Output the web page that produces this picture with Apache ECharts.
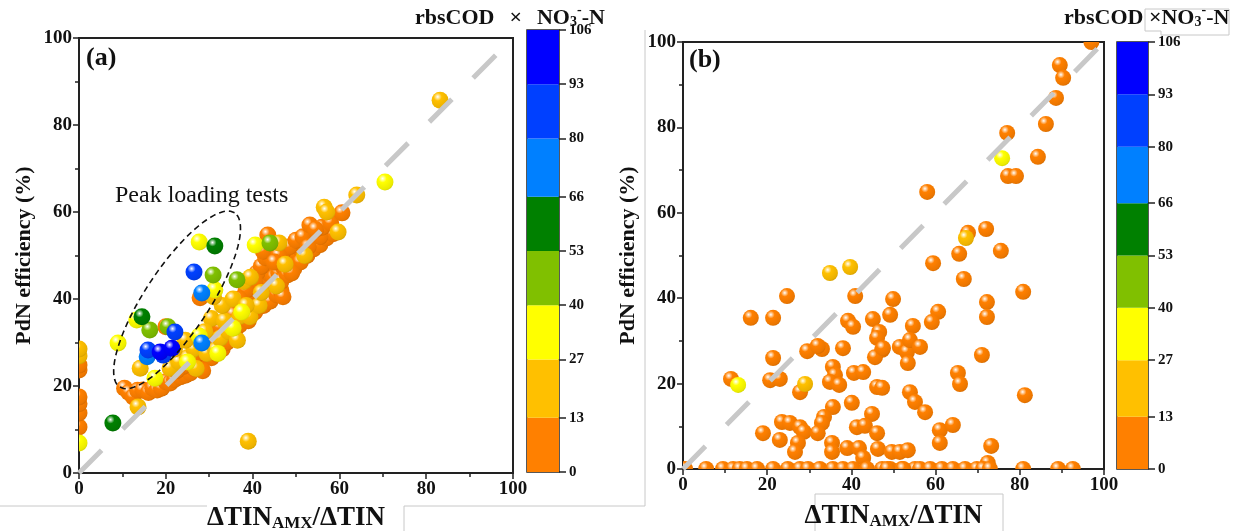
<!DOCTYPE html>
<html><head><meta charset="utf-8">
<script src="https://cdn.jsdelivr.net/npm/echarts@6/dist/echarts.min.js"></script>
<style>html,body{margin:0;padding:0;background:#fff}#c{width:1237px;height:531px}</style>
</head><body><div id="c"></div>
<script>
// ---------- data ----------
const colorEdges = [0, 13, 27, 40, 53, 66, 80, 93, 106];
const bandColors = ['#FF8000', '#FFC000', '#FFFF00', '#80C000', '#008000', '#0080FF', '#0040FF', '#0000FF'];

// panel (a) points by colour band  [ΔTIN_AMX/ΔTIN, PdN efficiency]
const aBand0 = [ // 0-13 orange
  [0,10.6],[0,13.8],[0,15.9],[0,17.5],[0,23.7],[0,24.8],
  [10.5,19.5],[11.5,18.5],[12.5,17.5],[13.5,19],[14.7,19.1],[16,18.5],[17,19.5],[18,19.1],[19,19.5],[20,21],[21,20.7],[22,21.5],[23.3,22.1],[24.5,22.5],[25.6,23],[26.5,24],[24,24.5],[22.5,23.5],
  [27,25],[28,26],[29,27],[30,28.5],[31,29],[32,30],[33,31],[34,32],[35,31.5],[35.5,31.7],[30.5,26.5],[29,29],[27.5,27.5],[31.5,27.5],[33,28.5],[26,25.5],[34,30],[36,33],[28.5,23.5],[27.9,40.3],[20,33.6],[35,34.5],[32.5,33.5],[30,31],
  [36,35],[37,34],[38,36.5],[39,38],[40,39],[41,40],[42,41],[43,42],[44,43],[45,44],[37.5,38.5],[36.5,37],[38.5,40.5],[40,41.5],[41.5,43],[42.5,44.5],[43.5,46],[44.5,47.5],[39.5,42.5],[41,46],[42,47.5],[43,49.5],[44,50.5],[40.5,44],[38.5,42],[37,40],[36,39],[35.5,36.5],[39,35],[40.5,37],[42.5,38.5],[44,39.5],[45.5,41],[46.5,42],[47,40.5],[45,45],[43.5,54.7],[44,49.4],[42.5,51],
  [46,46],[47,47.5],[48,48.5],[49,49.5],[50,50.5],[51,51.5],[52,52],[53,53],[54,54],[55,55],[46.5,44],[48,45.5],[49.5,47],[51,48.5],[52.5,50],[54,51.5],[55.5,52.5],[57,54],[58.5,55],[47,51],[48.5,52],[50,53.5],[51.6,54.3],[53.2,57],[55.5,54.3],[56,56.5],[58,57.5],[60.6,59.8],[46,50],[45,48.5],[52.8,52],[54.5,56],[49,46]
];
const aBand1 = [ // 13-27 amber
  [0,26.9],[0,28.5],[13.6,15.2],[14.1,24.1],[21,24.1],[23,25.5],[25,26.5],[26.5,28.5],[28,30],[29.5,27.5],[31.5,28.3],[32.5,31],[30.5,35.5],[33.5,35],[34.5,32.5],[37,36],[39.4,35.9],[41.5,38.5],[38,44],[39.5,45],[46.1,52.9],[56.5,61.1],[57.1,60],[59.7,55.4],[64,63.9],[83.2,85.7],[39,7.3],[24.5,30.5],[33,38.5],[35.5,40],[45.5,43],[31,40.5],[22,28.5],[47.5,48],[52,50],[29,32.5],[36.5,30.5],[27,24],[42,41.5],[38.5,38.5]
];
const aBand2 = [ // 27-40 yellow
  [0,6.9],[9,29.9],[13.3,35.2],[17.5,21.8],[27.7,31.5],[27.7,53.1],[31.3,42.1],[35.5,33.3],[40.6,52.4],[70.5,66.9],[32,27.5],[37.5,37],[25,25.5]
];
const aBand3 = [[16.3,32.9],[20.5,33.6],[30.9,45.5],[36.4,44.4],[44,52.9]]; // 40-53
const aBand4 = [[7.8,11.5],[14.5,35.9],[31.3,52.2]];                       // 53-66
const aBand5 = [[28.3,41.4],[28.3,29.9],[15.7,26.7]];                      // 66-80
const aBand6 = [[26.5,46.2],[22.1,32.4],[15.9,28.3],[19.4,27.1]];          // 80-93
const aBand7 = [[18.7,27.8],[21.4,28.7]];                                  // 93-106

// panel (b)
const bBand0 = [
  [24.7,40.5],[40.9,40.5],[49.9,39.8],[16.1,35.4],[21.4,35.4],[39.2,34.7],[40.4,33.3],[45.1,35.1],[49.2,36.1],[54.6,33.5],
  [46.6,32.1],[46.1,30.7],[47.3,27.9],[45.6,26.2],[29.5,27.6],[33,28.1],[32,28.8],[38,28.3],[21.4,26],[51.5,28.6],[53.2,27.4],[53.9,30.2],[53.4,24.8],
  [35.6,23.9],[36.1,22],[34.9,20.4],[37.1,19.7],[40.6,22.5],[42.8,22.7],[11.4,21.1],[20.7,20.8],[23,21.1],[27.8,18],[46.1,19.2],[53.9,18],[55.1,15.7],
  [40.1,15.5],[35.6,14.5],[33.5,12.2],[33,10.8],[23.5,11],[25.4,10.8],[27.8,9.8],[28.7,8.7],[19,8.4],[23,6.8],[32,8.4],[44.9,12.9],[41.3,9.8],[43.2,10.1],[46.1,8.4],
  [27.3,6.1],[26.6,4],[35.4,6.1],[35.4,4],[39,4.9],[41.8,4.9],[42.8,2.6],[46.3,4.7],[49.6,4],[51.5,4],[53.4,4.4],
  [0.5,0],[5.5,0],[9.5,0],[11.9,0],[13.5,0],[15.2,0],[17.6,0],[21.4,0],[24.9,0],[27.8,0],[29.7,0],[32.5,0],[35.6,0],[38,0],[40.4,0],[43.7,0],[47.3,0],[49.2,0],[52,0],[55.1,0],
  [97,100],[89.5,94.6],[90.3,91.6],[88.6,86.9],[86.2,80.8],[77,78.7],[84.3,73.1],[77.2,68.6],[79.1,68.6],[58,64.9],[67.7,55.3],[72,56.2],[65.6,50.4],[75.5,51.1],[59.4,48.2],
  [66.7,44.5],[80.8,41.5],[72.2,39.1],[72.2,35.6],[60.6,36.8],[59.1,34.4],[56.3,28.6],[47.5,28.3],[71,26.7],[65.3,22.5],[65.8,19.9],[81.2,17.3],[57.5,13.3],[47.3,19],
  [61,9.1],[61,6.1],[64.1,10.3],[73.2,5.4],[72.4,1.4],
  [48.5,0],[52.3,0],[56.3,0],[58.7,0],[61.5,0],[64.1,0],[67,0],[69.8,0],[71.3,0],[72.9,0],[80.8,0],[89.1,0],[92.6,0]
];
const bBand1 = [[34.9,45.9],[39.7,47.3],[29,19.9],[67.2,54.1]];
const bBand2 = [[13.1,19.7],[75.8,72.8]];

// ---------- helpers ----------
const SERIF = '"Liberation Serif","DejaVu Serif",serif';
function mix(hex, to, t) {
  const p = h => [parseInt(h.slice(1,3),16), parseInt(h.slice(3,5),16), parseInt(h.slice(5,7),16)];
  const a = p(hex), b = p(to);
  return 'rgb(' + a.map((v,i) => Math.round(v + (b[i]-v)*t)).join(',') + ')';
}
function sphere(c) {
  return {type:'radial', x:0.36, y:0.3, r:0.75, colorStops:[
    {offset:0, color:'#ffffff'}, {offset:0.14, color:mix(c,'#ffffff',0.55)},
    {offset:0.32, color:c}, {offset:0.85, color:mix(c,'#000000',0.08)}, {offset:1, color:mix(c,'#000000',0.18)}]};
}
function ellipse(cx, cy, A, B, deg, n) {
  const th = deg*Math.PI/180, pts = [];
  for (let i = 0; i <= n; i++) {
    const t = 2*Math.PI*i/n;
    pts.push([cx + A*Math.cos(t)*Math.cos(th) - B*Math.sin(t)*Math.sin(th),
              cy + A*Math.cos(t)*Math.sin(th) + B*Math.sin(t)*Math.cos(th)]);
  }
  return pts;
}

const lab = {fontFamily:SERIF, fontWeight:'bold', fontSize:19, color:'#111'};
function valAxis(grid, isX, name, gap) {
  return {
    gridIndex:grid, type:'value', min:0, max:100, interval:20,
    axisLine:{show:true, onZero:false, lineStyle:{color:'#222', width:2}},
    axisTick:{show:true, length:6, lineStyle:{color:'#222', width:1.5}},
    minorTick:{show:true, splitNumber:2, length:4, lineStyle:{color:'#222', width:1.5}},
    splitLine:{show:false}, minorSplitLine:{show:false},
    axisLabel:Object.assign({margin:7}, lab),
    name:name, nameLocation:'middle', nameGap:gap,
    nameTextStyle: isX ? {rich:{
        a:{fontFamily:SERIF, fontWeight:'bold', fontSize:27, color:'#111', lineHeight:28, verticalAlign:'bottom'},
        s:{fontFamily:SERIF, fontWeight:'bold', fontSize:17, color:'#111', lineHeight:6, verticalAlign:'bottom'}}}
      : {fontFamily:SERIF, fontWeight:'bold', fontSize:22, color:'#111'}
  };
}
function cbAxisY(grid) {
  return {gridIndex:grid, type:'value', min:0, max:106, position:'right',
    axisLine:{show:false}, splitLine:{show:false},
    axisTick:{show:true, customValues:colorEdges, length:7, lineStyle:{color:'#222', width:1.5}},
    axisLabel:{customValues:colorEdges, fontFamily:SERIF, fontWeight:'bold', fontSize:15, color:'#111', margin:10}};
}
const xName = '{a|ΔTIN}{s|AMX}{a|/ΔTIN}';

function sphereSeries(grid, data, color, r) {
  const fill = sphere(color);
  return {type:'custom', xAxisIndex:grid, yAxisIndex:grid, data:data, clip:true, z:2,
    encode:{x:0, y:1},
    renderItem:(params, api) => {
      const p = api.coord([api.value(0), api.value(1)]);
      return {type:'circle', shape:{cx:p[0], cy:p[1], r:r}, style:{fill:fill}};
    }};
}

const series = [];
[aBand0,aBand1,aBand2,aBand3,aBand4,aBand5,aBand6,aBand7].forEach((d,i) => series.push(sphereSeries(0, d, bandColors[i], 8.5)));
[bBand0,bBand1,bBand2].forEach((d,i) => series.push(sphereSeries(1, d, bandColors[i], 8)));
[0,1].forEach(g => series.push({type:'line', xAxisIndex:g, yAxisIndex:g, data:[[0,0],[100,100]], symbol:'none',
  lineStyle:{color:'#c8c8c8', width:5, type:[32,30]}, z:3, silent:true}));
series.push({type:'line', xAxisIndex:0, yAxisIndex:0, data:ellipse(22.6,39.8,24,7.4,56.5,96), symbol:'none',
  lineStyle:{color:'#111', width:1.6, type:[6,4]}, z:4, silent:true});
[2,3].forEach(g => colorEdges.slice(1).forEach((e,i) => series.push({type:'bar', xAxisIndex:g, yAxisIndex:g, stack:'cb'+g,
  barWidth:'100%', data:[e - colorEdges[i]], itemStyle:{color:bandColors[i]}, silent:true})));

const titleRich = {
  b:{fontFamily:SERIF, fontWeight:'bold', fontSize:22, fill:'#111', lineHeight:26, verticalAlign:'bottom'},
  x:{fontFamily:SERIF, fontWeight:'bold', fontSize:22, fill:'#111', lineHeight:26, verticalAlign:'bottom', padding:[0,15,0,15]},
  s:{fontFamily:SERIF, fontWeight:'bold', fontSize:14, fill:'#111', lineHeight:6, verticalAlign:'bottom'},
  p:{fontFamily:SERIF, fontWeight:'bold', fontSize:14, fill:'#111', lineHeight:16, verticalAlign:'top'}
};
const boxLine = {stroke:'#c8c8c8', lineWidth:1, fill:null};
const gridBase = {show:true, borderColor:'#222', outerBoundsMode:'none', containLabel:false};

const option = {
  animation:false,
  backgroundColor:'#fff',
  grid:[
    Object.assign({left:79, top:38, width:434, height:435, borderWidth:2}, gridBase),
    Object.assign({left:683, top:42, width:421, height:427, borderWidth:2}, gridBase),
    Object.assign({left:527, top:30, width:32, height:442, borderWidth:1.5}, gridBase),
    Object.assign({left:1117, top:42, width:31, height:427, borderWidth:1.5}, gridBase)
  ],
  xAxis:[
    valAxis(0, true, xName, 31), valAxis(1, true, xName, 33),
    {gridIndex:2, type:'category', data:['c'], show:false},
    {gridIndex:3, type:'category', data:['c'], show:false}
  ],
  yAxis:[
    valAxis(0, false, 'PdN efficiency (%)', 44), valAxis(1, false, 'PdN efficiency (%)', 44),
    cbAxisY(2), cbAxisY(3)
  ],
  series:series,
  graphic:[
    {type:'polyline', shape:{points:[[0,506],[207,506]]}, style:boxLine, silent:true},
    {type:'polyline', shape:{points:[[404,531],[404,506],[645,506],[645,30]]}, style:boxLine, silent:true},
    {type:'polyline', shape:{points:[[815,531],[815,494],[1003,494],[1003,531]]}, style:boxLine, silent:true},
    {type:'polyline', shape:{points:[[1161,35],[1229,35],[1229,9],[1145,9],[1145,31],[1161,31],[1161,35]]}, style:boxLine, silent:true},
    {type:'text', left:86, top:45, style:{text:'(a)', font:'bold 26px '+SERIF, fill:'#111'}},
    {type:'text', left:689, top:47, style:{text:'(b)', font:'bold 26px '+SERIF, fill:'#111'}},
    {type:'text', left:115, top:184, style:{text:'Peak loading tests', font:'24px '+SERIF, fill:'#111'}},
    {type:'text', left:415, top:3, style:{text:'{b|rbsCOD}{x|×}{b|NO}{s|3}{p|-}{b|-N}', rich:titleRich}},
    {type:'text', left:1064, top:3, style:{text:'{b|rbsCOD ×NO}{s|3}{p|-}{b|-N}', rich:titleRich}}
  ]
};
echarts.init(document.getElementById('c')).setOption(option);
</script></body></html>
